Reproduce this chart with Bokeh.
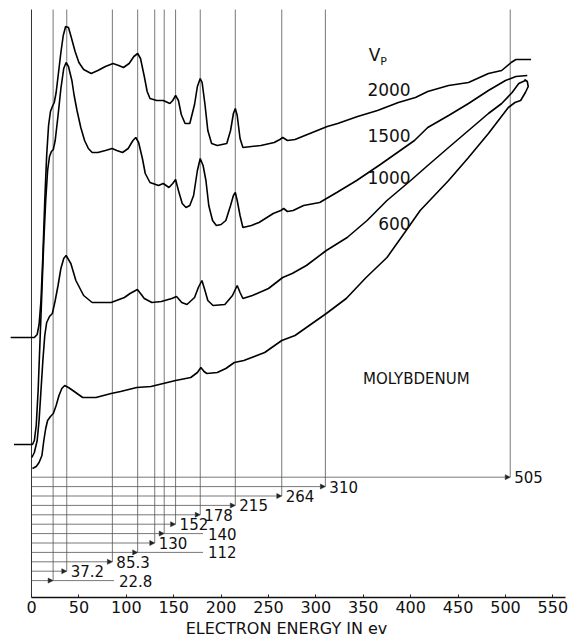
from bokeh.plotting import figure
from bokeh.models import Range1d, ColumnDataSource, Arrow, NormalHead, FixedTicker
from bokeh.core.properties import value
from bokeh.embed import file_html
from bokeh.resources import INLINE

FONT = "DejaVu Sans"

# ---------------- data ----------------
energy_2000 = [-22, 3, 6, 8, 10, 12, 14, 16, 18, 20, 22, 24, 26, 28, 31, 33.5, 36, 39, 42, 46,
               50, 55, 63, 70, 78, 86, 92, 97, 103, 108, 112, 115, 119, 122, 125, 132, 139, 146, 149, 152,
               155, 158, 162, 167, 172, 175, 178, 180, 183, 186, 190, 196, 206, 210, 213, 215, 217, 220, 223, 232,
               242, 256, 262, 265, 270, 278, 291, 312, 323, 344, 365, 387, 405, 418, 440, 461, 482, 496, 506, 511,
               527]
signal_2000 = [260, 260, 263, 273, 297, 342, 397, 442, 472, 486, 491, 495, 505, 521, 545, 562, 571, 570, 560, 546,
               535, 528, 524, 527, 531, 534, 532, 530, 534, 541, 544, 539, 521, 506, 499, 497, 497, 494, 497, 502,
               497, 483, 474, 474, 493, 511, 519, 515, 493, 467, 454, 452, 454, 467, 484, 489, 482, 459, 450, 451,
               452, 455, 458, 460, 457, 458, 463, 471, 474, 481, 487, 495, 500, 506, 512, 515, 524, 527, 535, 538,
               538]

energy_1500 = [-18.5, 1, 3, 5, 7, 9, 11, 13, 15, 17, 19, 21, 23, 25, 28, 31, 34, 36.5, 39, 42.6,
               45, 48, 52, 56, 60, 64, 70, 78, 85, 90, 96, 102, 107, 110, 113, 117, 120, 125, 134, 139,
               145, 149, 152, 155, 159, 163, 167, 171, 175, 178, 181, 184, 187, 191, 195, 200, 205, 210, 213, 215,
               217, 220, 223, 232, 240, 255, 263, 266, 270, 276, 287, 304, 322, 343, 368, 404, 418, 440, 461, 482,
               500, 511, 523]
signal_1500 = [153, 153, 157, 172, 207, 257, 307, 357, 397, 427, 441, 446, 448, 457, 482, 509, 529, 535, 531, 517,
               502, 487, 470, 457, 449, 445, 445, 447, 449, 447, 445, 449, 457, 460, 455, 439, 424, 415, 412, 414,
               410, 414, 418, 407, 394, 390, 392, 402, 427, 439, 432, 417, 392, 377, 372, 373, 377, 392, 402, 405,
               397, 382, 370, 372, 375, 384, 387, 389, 386, 387, 392, 395, 405, 417, 433, 457, 470, 482, 494, 507,
               517, 521, 522]

energy_1000 = [0.4, 3, 6, 8, 10, 12, 14, 16, 19, 22, 25, 28, 31, 34, 36.5, 41.5, 46.8, 55, 64, 84,
               98, 104, 111.7, 115, 119, 127, 137, 148, 153, 158.5, 164, 172, 176, 179.8, 183, 186, 191.5, 204, 212, 217,
               220, 223, 233, 250, 265, 275, 290, 311, 333, 354, 375, 400, 418, 440, 461, 482, 496, 507, 514, 521]
signal_1000 = [140, 145, 157, 177, 207, 237, 262, 275, 281, 284, 297, 312, 329, 339, 342, 334, 317, 302, 295, 295,
               300, 304, 308, 304, 299, 295, 296, 299, 301, 295, 293, 300, 310, 317, 307, 297, 292, 293, 302, 312,
               305, 299, 302, 309, 320, 324, 332, 347, 360, 377, 397, 417, 432, 450, 467, 484, 494, 505, 514, 517]

energy_600 = [1, 5, 8, 11, 13, 15, 17, 20, 23, 26, 29, 32, 35, 39, 43.6, 54, 68, 84, 94, 111,
              126, 139, 152, 168, 175, 178.7, 182, 185, 196, 205, 214, 224, 246, 264, 278, 290, 311, 332, 353, 375,
              393, 410, 425, 440, 461, 482, 503, 510, 516, 521, 524, 523, 520]
signal_600 = [129, 131, 135, 142, 157, 169, 177, 181, 184, 192, 202, 209, 212, 210, 207, 200, 200, 204, 206, 210,
              211, 214, 217, 220, 225, 230, 226, 224, 225, 229, 235, 237, 245, 257, 262, 270, 284, 299, 320, 340,
              364, 387, 402, 417, 440, 464, 490, 495, 497, 505, 511, 516, 518]

line_energies = [505, 310, 264, 215, 178, 152, 140, 130, 112, 85.3, 37.2, 22.8]
line_labels = ["505", "310", "264", "215", "178", "152", "140", "130", "112", "85.3", "37.2", "22.8"]
curve_labels = ["2000", "1500", "1000", "600"]
x_ticks = [0, 50, 100, 150, 200, 250, 300, 350, 400, 450, 500, 550]

# ---------------- layout ----------------
TOP = 588
row_top, row_step = 120.3, 9.4
rows = [row_top - i * row_step for i in range(len(line_energies))]
label_anchor = {140: 182, 112: 182, 22.8: 88}

p = figure(width=572, height=642, output_backend="svg", toolbar_location=None,
           x_range=Range1d(-32.7, 570.7), y_range=Range1d(0, 597),
           y_axis_location=None, min_border_left=0, min_border_right=0,
           min_border_top=0, min_border_bottom=45)
p.grid.visible = False
p.outline_line_color = None
p.background_fill_color = "white"
p.border_fill_color = "white"

ax = p.xaxis[0]
ax.ticker = FixedTicker(ticks=x_ticks)
ax.bounds = (0, 563)
ax.axis_line_color = "#111111"
ax.axis_line_width = 1.3
ax.major_tick_in = 3
ax.major_tick_out = 0
ax.major_tick_line_color = "#222222"
ax.minor_tick_line_color = None
ax.major_label_text_font = FONT
ax.major_label_text_font_size = "16px"
ax.major_label_text_color = "#111111"
ax.major_label_standoff = 3
ax.axis_label = "ELECTRON ENERGY IN ev"
ax.axis_label_text_font = FONT
ax.axis_label_text_font_size = "16px"
ax.axis_label_text_font_style = "normal"
ax.axis_label_text_color = "#111111"
ax.axis_label_standoff = 3

# vertical energy marker lines
p.segment(x0=line_energies, y0=rows, x1=line_energies, y1=[TOP] * len(rows),
          line_color="#555555", line_width=0.8)
p.segment(x0=[0], y0=[0], x1=[0], y1=[TOP], line_color="#333333", line_width=1.0)

# horizontal bracket arrows
src = ColumnDataSource(dict(x0=[0] * len(rows), x1=line_energies, y=rows))
p.add_layout(Arrow(end=NormalHead(size=5, fill_color="#222222", line_color="#222222", line_width=0.5),
                   x_start="x0", y_start="y", x_end="x1", y_end="y", source=src,
                   line_color="#555555", line_width=0.8))
ext_e = [e for e in line_energies if e in label_anchor]
ext_y = [rows[line_energies.index(e)] for e in ext_e]
p.segment(x0=ext_e, y0=ext_y, x1=[label_anchor[e] - 1 for e in ext_e], y1=ext_y,
          line_color="#555555", line_width=0.8)

lab_x = [label_anchor.get(e, e) for e in line_energies]
p.text(x=lab_x, y=rows, text=line_labels, text_font=value(FONT), text_font_size="15px",
       text_align="left", text_baseline="middle", x_offset=4, text_color="#111111")

# spectra
for ex, sg in [(energy_2000, signal_2000), (energy_1500, signal_1500),
               (energy_1000, signal_1000), (energy_600, signal_600)]:
    p.line(ex, sg, line_color="black", line_width=1.6)

# curve labels
p.text(x=[400] * 4, y=[508, 462, 420, 374], text=curve_labels, text_font=value(FONT),
       text_font_size="17px", text_align="right", text_baseline="middle", text_color="#111111")
p.text(x=[362], y=[543], text=["V"], text_font=value(FONT), text_font_size="17px",
       text_align="center", text_baseline="middle", text_color="#111111")
p.text(x=[371.5], y=[536], text=["P"], text_font=value(FONT), text_font_size="11px",
       text_align="center", text_baseline="middle", text_color="#111111")
p.text(x=[406], y=[219], text=["MOLYBDENUM"], text_font=value(FONT), text_font_size="15px",
       text_align="center", text_baseline="middle", text_color="#111111")

open("out.html", "w").write(file_html(p, INLINE))
